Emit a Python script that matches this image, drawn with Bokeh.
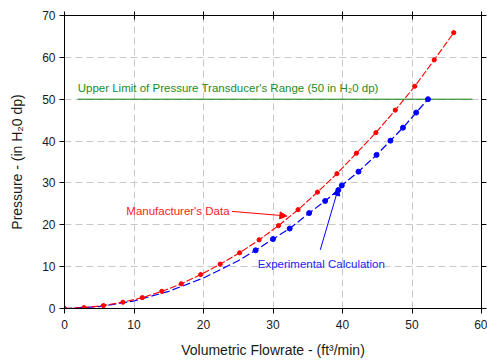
from bokeh.plotting import figure
from bokeh.models import (Range1d, LinearAxis, SingleIntervalTicker, Arrow, NormalHead)
from bokeh.core.properties import value
from bokeh.embed import file_html
from bokeh.resources import INLINE

# ---- data ----
flow_mfr = [0, 2.8, 5.6, 8.4, 11.2, 14.0, 16.8, 19.6, 22.4, 25.2, 28.0, 30.8, 33.6,
            36.4, 39.2, 42.0, 44.8, 47.6, 50.4, 53.2, 56.0]
press_mfr = [0, 0.2, 0.7, 1.5, 2.6, 4.1, 5.9, 8.1, 10.6, 13.3, 16.4, 19.8, 23.6,
             27.8, 32.2, 37.1, 42.0, 47.4, 53.1, 59.4, 65.9]

flow_exp = [0, 5, 10, 15, 20, 25, 27.5, 30.0, 32.4, 35.2, 37.5, 39.4, 39.9, 42.3,
            44.9, 46.9, 48.7, 50.6, 52.3]
press_exp = [0, 0.45, 1.8, 4.1, 7.3, 11.4, 13.9, 16.6, 19.1, 22.8, 25.7, 28.3, 29.4,
             32.7, 36.7, 40.1, 43.2, 46.8, 50.0]
exp_marker_start = 6

limit_value = 50
limit_x = [1.9, 58.7]
limit_label = "Upper Limit of Pressure Transducer's Range (50 in H\u20820 dp)"

mfr_label = "Manufacturer's Data"
mfr_label_pos = (8.9, 23.3)
mfr_arrow = (24.1, 23.2, 32.0, 22.1)

exp_label = "Experimental Calculation"
exp_label_pos = (27.8, 10.7)
exp_arrow = (36.8, 14.0, 39.4, 28.7)

x_ticks_interval = 10
y_ticks_interval = 10

FONT = "Liberation Sans"

p = figure(width=487, height=360, output_backend="svg", toolbar_location=None,
           x_range=Range1d(0, 60), y_range=Range1d(0, 70),
           min_border_left=64, min_border_right=6, min_border_top=15, min_border_bottom=51)
p.background_fill_color = "white"
p.border_fill_color = "white"
p.outline_line_color = "black"
p.outline_line_width = 1

# grids
for g in (p.xgrid, p.ygrid):
    g.grid_line_color = "#c8c8c8"
    g.grid_line_dash = "7 4"
    g.grid_line_width = 1
p.xgrid.ticker = SingleIntervalTicker(interval=x_ticks_interval)
p.ygrid.ticker = SingleIntervalTicker(interval=y_ticks_interval)

# main axes
xa = p.xaxis[0]
ya = p.yaxis[0]
xa.ticker = SingleIntervalTicker(interval=x_ticks_interval)
ya.ticker = SingleIntervalTicker(interval=y_ticks_interval)
xa.axis_label = "Volumetric Flowrate - (ft\u00b3/min)"
ya.axis_label = "Pressure - (in H\u20820 dp)"
for ax in (xa, ya):
    ax.axis_line_color = "black"
    ax.major_tick_line_color = "black"
    ax.minor_tick_line_color = None
    ax.major_tick_in = 0
    ax.major_tick_out = 5
    ax.major_label_text_font = FONT
    ax.major_label_text_font_size = "12px"
    ax.major_label_text_color = "#1a1a1a"
    ax.axis_label_text_font = FONT
    ax.axis_label_text_font_size = "14px"
    ax.axis_label_text_font_style = "normal"
    ax.axis_label_text_color = "#1a1a1a"
xa.major_label_standoff = 6
xa.axis_label_standoff = 10
ya.major_label_standoff = 4
ya.axis_label_standoff = 14

# top and right axes (ticks only, no labels drawn)
top = LinearAxis(ticker=SingleIntervalTicker(interval=x_ticks_interval))
right = LinearAxis(ticker=SingleIntervalTicker(interval=y_ticks_interval))
for ax, tin, tout in ((top, 4, 4), (right, 0, 5)):
    ax.major_tick_in = tin
    ax.major_tick_out = tout
    ax.minor_tick_line_color = None
    ax.major_label_text_font_size = "1px"
    ax.major_label_text_color = None
    ax.major_label_standoff = 0
    ax.axis_line_color = "black"
    ax.major_tick_line_color = "black"
p.add_layout(top, "above")
p.add_layout(right, "right")

# limit line and label
p.line(limit_x, [limit_value, limit_value], line_color="#0e800e", line_width=1)
p.text([limit_x[0]], [limit_value + 2.6], text=[limit_label], text_font=value(FONT),
       text_font_size="11.5px", text_color="#1e8c1e", text_baseline="middle", text_align="left")

# experimental series
p.line(flow_exp, press_exp, line_color="#0000ff", line_dash="8 3", line_width=1.2)
p.scatter(flow_exp[exp_marker_start:], press_exp[exp_marker_start:], size=5,
          fill_color="#0000ff", line_color="#0000ff", marker="circle")

# manufacturer series
p.line(flow_mfr, press_mfr, line_color="#ff0000", line_dash="7 2", line_width=1.1)
p.scatter(flow_mfr, press_mfr, size=4.2, fill_color="#ff0000", line_color="#ff0000",
          marker="circle")

# annotation labels
p.text([mfr_label_pos[0]], [mfr_label_pos[1]], text=[mfr_label], text_font=value(FONT),
       text_font_size="11.5px", text_color="#ff2222", text_baseline="middle")
p.text([exp_label_pos[0]], [exp_label_pos[1]], text=[exp_label], text_font=value(FONT),
       text_font_size="11.5px", text_color="#2222ff", text_baseline="middle")

p.add_layout(Arrow(end=NormalHead(size=7, fill_color="#ff0000", line_color="#ff0000"),
                   x_start=mfr_arrow[0], y_start=mfr_arrow[1], x_end=mfr_arrow[2], y_end=mfr_arrow[3],
                   line_color="#ff0000", line_width=1))
p.add_layout(Arrow(end=NormalHead(size=7, fill_color="#0000ff", line_color="#0000ff"),
                   x_start=exp_arrow[0], y_start=exp_arrow[1], x_end=exp_arrow[2], y_end=exp_arrow[3],
                   line_color="#0000ff", line_width=1))

open("out.html", "w").write(file_html(p, INLINE))
